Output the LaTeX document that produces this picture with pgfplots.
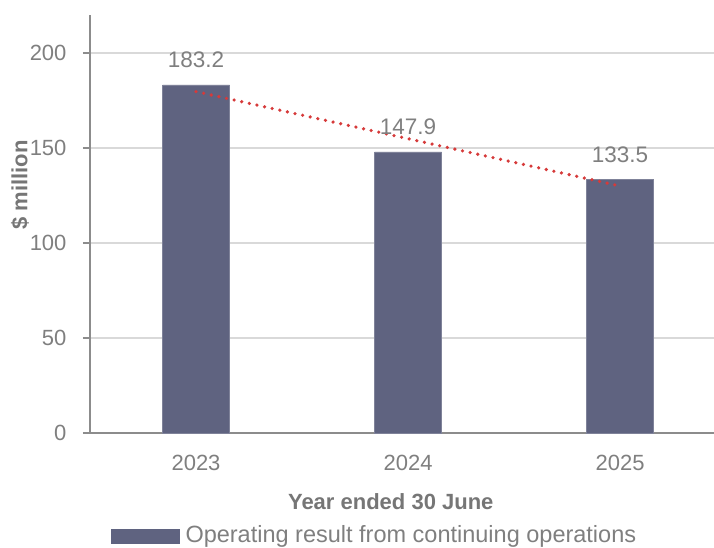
\documentclass[border=0pt]{standalone}
\usepackage{pgfplots}
\pgfplotsset{compat=1.18}
\usepackage{fontspec}
\setmainfont{Liberation Sans}
\definecolor{barc}{HTML}{5F6380}
\definecolor{txt}{HTML}{7F7F7F}
\definecolor{lbl}{HTML}{767676}
\definecolor{axc}{HTML}{8C8C8C}
\definecolor{gridc}{HTML}{D9D9D9}
\definecolor{trend}{HTML}{D63A3A}
\begin{document}
\fontsize{22pt}{26pt}\selectfont
\begin{tikzpicture}
\useasboundingbox (-90pt,-114pt) rectangle (624pt,433pt);
\begin{axis}[
  scale only axis,
  width=624pt, height=418pt,
  at={(0pt,0pt)}, anchor=south west,
  xmin=-0.5, xmax=2.443,
  ymin=0, ymax=220,
  axis x line*=bottom, axis y line*=left,
  axis line style={axc, line width=1.5pt, -},
  ytick={0,50,100,150,200},
  xtick={0,1,2},
  xticklabels={2023,2024,2025},
  minor xtick={-0.5,0.5,1.5},
  tick align=outside,
  major tick length=7pt,
  minor tick length=7pt,
  xtick style={draw=none},
  minor x tick style={axc, line width=1.5pt},
  ytick style={axc, line width=1.5pt},
  ymajorgrids,
  grid style={gridc, line width=1.2pt},
  tick label style={txt, font=\fontsize{22pt}{26pt}\selectfont},
  yticklabel style={xshift=-9pt},
  xticklabel style={yshift=-8pt},
  /pgf/number format/assume math mode=true,
  ylabel={\$ million},
  every axis y label/.style={at={(rel axis cs:0,0.593)}, xshift=-70pt, rotate=90, anchor=center,
    lbl, font=\fontsize{22pt}{26pt}\selectfont\bfseries},
  xlabel={Year ended 30 June},
  every axis x label/.style={at={(rel axis cs:0.482,0)}, yshift=-69pt, anchor=center,
    lbl, font=\fontsize{22pt}{26pt}\selectfont\bfseries},
  legend style={at={(rel axis cs:0.456,-0.246)}, anchor=center, draw=none, fill=none,
    font=\fontsize{23.5pt}{27pt}\selectfont, text=txt, inner sep=0pt,
    /tikz/every even column/.append style={column sep=0pt}},
  legend cell align=left,
  clip=false,
]
\addplot[ybar, bar width=67pt, fill=barc, draw=barc!80!white, line width=0.6pt,
  legend image code/.code={\fill[barc] (0pt,-7pt) rectangle (68pt,7pt);},
  nodes near coords, nodes near coords align={vertical},
  every node near coord/.append style={txt, font=\fontsize{22.5pt}{26pt}\selectfont, anchor=center, yshift=25pt},
  /pgf/number format/.cd, fixed, fixed zerofill, precision=1, assume math mode=true]
  coordinates {(0,183.2) (1,147.9) (2,133.5)};
\addlegendentry{\hspace{4pt}Operating result from continuing operations}
\addplot[trend, line width=3.6pt, dash pattern=on 0pt off 7.8pt, line cap=round, forget plot]
  coordinates {(0,179.7) (1,154.9) (2,130.0)};
\end{axis}
\end{tikzpicture}
\end{document}
